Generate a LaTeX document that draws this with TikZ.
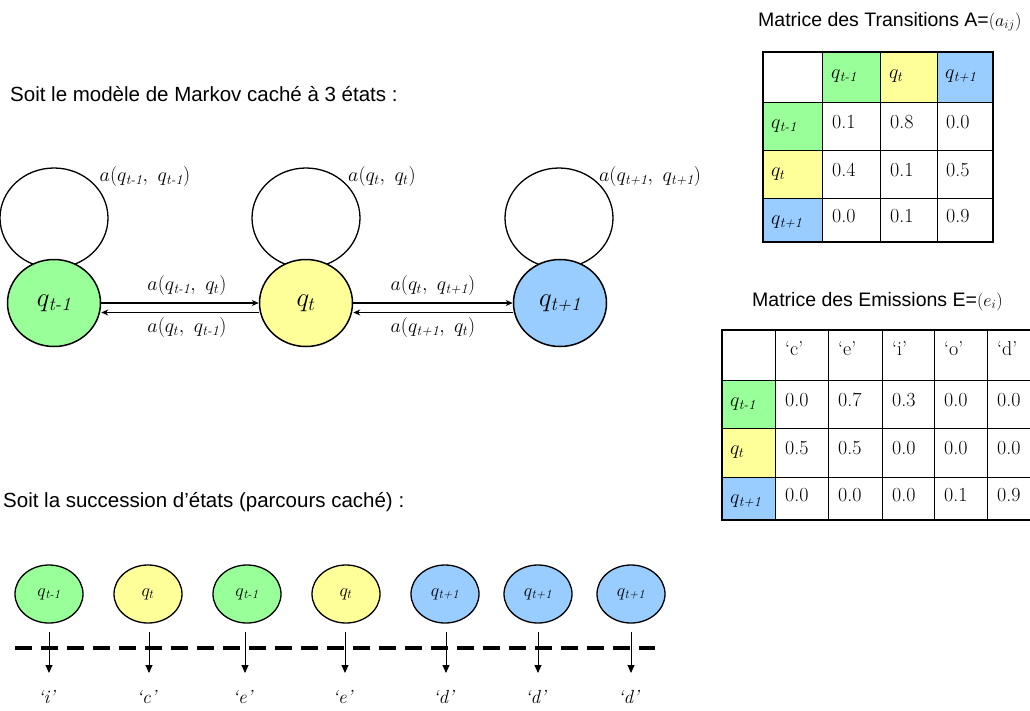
\RequirePackage{fix-cm}
\documentclass[tikz,border=0pt]{standalone}
\usepackage{fontspec}
\usepackage{amsmath}
\newfontfamily\sansf{Liberation Sans}
\usetikzlibrary{shapes.geometric,arrows.meta}
\definecolor{qg}{RGB}{153,255,153}
\definecolor{qy}{RGB}{255,255,153}
\definecolor{qb}{RGB}{153,204,255}
\newcommand{\Qm}{q_{\textit{t-1}}}
\newcommand{\Qp}{q_{\textit{t+1}}}
\newcommand{\Qt}{q_{t}}
\tikzset{
  state/.style={ellipse, draw, line width=1.5pt, minimum width=93pt, minimum height=87pt, inner sep=0pt, font=\fontsize{27}{30}\selectfont},
  loopc/.style={ellipse, draw, line width=1.3pt, minimum width=108pt, minimum height=100pt, inner sep=0pt},
  smallst/.style={ellipse, draw, line width=1.3pt, minimum width=68pt, minimum height=58pt, inner sep=0pt, font=\fontsize{18}{20}\selectfont},
  lab/.style={font=\fontsize{20}{22}\selectfont, inner sep=0pt},
  tr/.style={-{Stealth[length=7pt,width=6pt]}, line width=1.3pt},
  obs/.style={-{Triangle[length=8pt,width=7pt]}, line width=0.9pt},
  title/.style={anchor=base west, inner sep=0pt, font=\sansf\fontsize{20.5}{24}\selectfont},
  cell/.style={anchor=base west, inner sep=0pt, font=\fontsize{20}{22}\selectfont},
  thin/.style={line width=0.9pt},
  outer/.style={line width=2.6pt},
  olab/.style={inner sep=0pt, font=\fontsize{19}{21}\selectfont}
}
\begin{document}
\begin{tikzpicture}[x=1pt,y=-1pt]
\clip (0,0) rectangle (1030,710);
\fill[white] (0,0) rectangle (1030,710);

% ---- titles
\node[title] (t1) at (10,101) {Soit le modèle de Markov caché à 3 états :};
\node[title] (t2) at (3,507) {Soit la succession d’états (parcours caché) :};
\node[title, font=\sansf\fontsize{19.5}{24}\selectfont] (t3) at (758,26) {Matrice des Transitions A=\fontsize{18}{20}\selectfont$(a_{ij})$};
\node[title, font=\sansf\fontsize{19.5}{24}\selectfont] (t4) at (752,306) {Matrice des Emissions E=\fontsize{18}{20}\selectfont$(e_{i})$};

% ---- HMM graph
\node[loopc] (LG) at (54,218) {};
\node[loopc] (LY) at (306,218) {};
\node[loopc] (LB) at (559,218) {};
\node[state, fill=qg] (G) at (54,303) {$\Qm$};
\node[state, fill=qy] (Y) at (306,303) {$\Qt$};
\node[state, fill=qb] (B) at (560,303) {$\Qp$};

\node[lab] (lg) at (145,176) {$a(\Qm,\ \Qm)$};
\node[lab] (ly) at (382,176) {$a(\Qt,\ \Qt)$};
\node[lab] (lb) at (650,176) {$a(\Qp,\ \Qp)$};

\draw[tr] (G.east) -- (Y.west);
\draw[tr] ([yshift=-9.5pt]Y.west) -- ([yshift=-9.5pt]G.east);
\draw[tr] (Y.east) -- (B.west);
\draw[tr] ([yshift=-9.5pt]B.west) -- ([yshift=-9.5pt]Y.east);

\node[lab] (a1) at (187,285) {$a(\Qm,\ \Qt)$};
\node[lab] (a2) at (187,327) {$a(\Qt,\ \Qm)$};
\node[lab] (a3) at (433,285) {$a(\Qt,\ \Qp)$};
\node[lab] (a4) at (433,327) {$a(\Qp,\ \Qt)$};

% ---- transition matrix
\fill[qg] (822,52) rectangle (880,102);
\fill[qy] (880,52) rectangle (937,102);
\fill[qb] (937,52) rectangle (993,102);
\fill[qg] (763,102) rectangle (822,150);
\fill[qy] (763,150) rectangle (822,198);
\fill[qb] (763,198) rectangle (822,242);
\foreach \x in {822,880,937} \draw[thin] (\x,52) -- (\x,242);
\foreach \y in {102,150,198} \draw[thin] (763,\y) -- (993,\y);
\draw[outer] (763,52) rectangle (993,242);

\node[cell] (h1) at (831,78) {$\Qm$};
\node[cell] (h2) at (889,78) {$\Qt$};
\node[cell] (h3) at (945,78) {$\Qp$};
\node[cell] (r1) at (771,128) {$\Qm$};
\node[cell] (r2) at (771,176) {$\Qt$};
\node[cell] (r3) at (771,224) {$\Qp$};
\node[cell] (m11) at (832,128) {0.1};
\node[cell] (m12) at (890,128) {0.8};
\node[cell] (m13) at (946,128) {0.0};
\node[cell] (m21) at (832,176) {0.4};
\node[cell] (m22) at (890,176) {0.1};
\node[cell] (m23) at (946,176) {0.5};
\node[cell] (m31) at (832,222) {0.0};
\node[cell] (m32) at (890,222) {0.1};
\node[cell] (m33) at (946,222) {0.9};

% ---- emission matrix
\fill[qg] (722,380) rectangle (775,428);
\fill[qy] (722,428) rectangle (775,477);
\fill[qb] (722,477) rectangle (775,520);
\foreach \x in {775,828,882,934,987} \draw[thin] (\x,330) -- (\x,520);
\foreach \y in {380,428,477} \draw[thin] (722,\y) -- (1040,\y);
\draw[outer] (722,330) rectangle (1040,520);

\node[cell] (eh1) at (785,355) {`c'};
\node[cell] (eh2) at (838,355) {`e'};
\node[cell] (eh3) at (892,355) {`i'};
\node[cell] (eh4) at (944,355) {`o'};
\node[cell] (eh5) at (997,355) {`d'};
\node[cell] (er1) at (730,406) {$\Qm$};
\node[cell] (er2) at (730,454) {$\Qt$};
\node[cell] (er3) at (730,503) {$\Qp$};
\node[cell] (e11) at (785,406) {0.0};
\node[cell] (e12) at (838,406) {0.7};
\node[cell] (e13) at (892,406) {0.3};
\node[cell] (e14) at (944,406) {0.0};
\node[cell] (e15) at (997,406) {0.0};
\node[cell] (e21) at (785,454) {0.5};
\node[cell] (e22) at (838,454) {0.5};
\node[cell] (e23) at (892,454) {0.0};
\node[cell] (e24) at (944,454) {0.0};
\node[cell] (e25) at (997,454) {0.0};
\node[cell] (e31) at (785,501) {0.0};
\node[cell] (e32) at (838,501) {0.0};
\node[cell] (e33) at (892,501) {0.0};
\node[cell] (e34) at (944,501) {0.1};
\node[cell] (e35) at (997,501) {0.9};

% ---- sequence
\coordinate (dl) at (15,648);
\coordinate (dr) at (655,648);
\draw[line width=4.5pt, dash pattern=on 17pt off 9pt] (dl) -- (dr);

\node[smallst, fill=qg] (s1) at (49,594) {$\Qm$};
\node[smallst, fill=qy] (s2) at (148,594) {$\Qt$};
\node[smallst, fill=qg] (s3) at (247,594) {$\Qm$};
\node[smallst, fill=qy] (s4) at (346,594) {$\Qt$};
\node[smallst, fill=qb] (s5) at (445,594) {$\Qp$};
\node[smallst, fill=qb] (s6) at (538,594) {$\Qp$};
\node[smallst, fill=qb] (s7) at (631,594) {$\Qp$};

\foreach \i/\x/\t in {1/49/i,2/149/c,3/245/e,4/345/e,5/446/d,6/538/d,7/631/d}{
  \coordinate (e\i) at (\x,673);
  \draw[obs] (\x,632) -- (e\i);
  \node[olab] (o\i) at (\x-2,697) {\textit{`\t'}};
}
\end{tikzpicture}
\end{document}
